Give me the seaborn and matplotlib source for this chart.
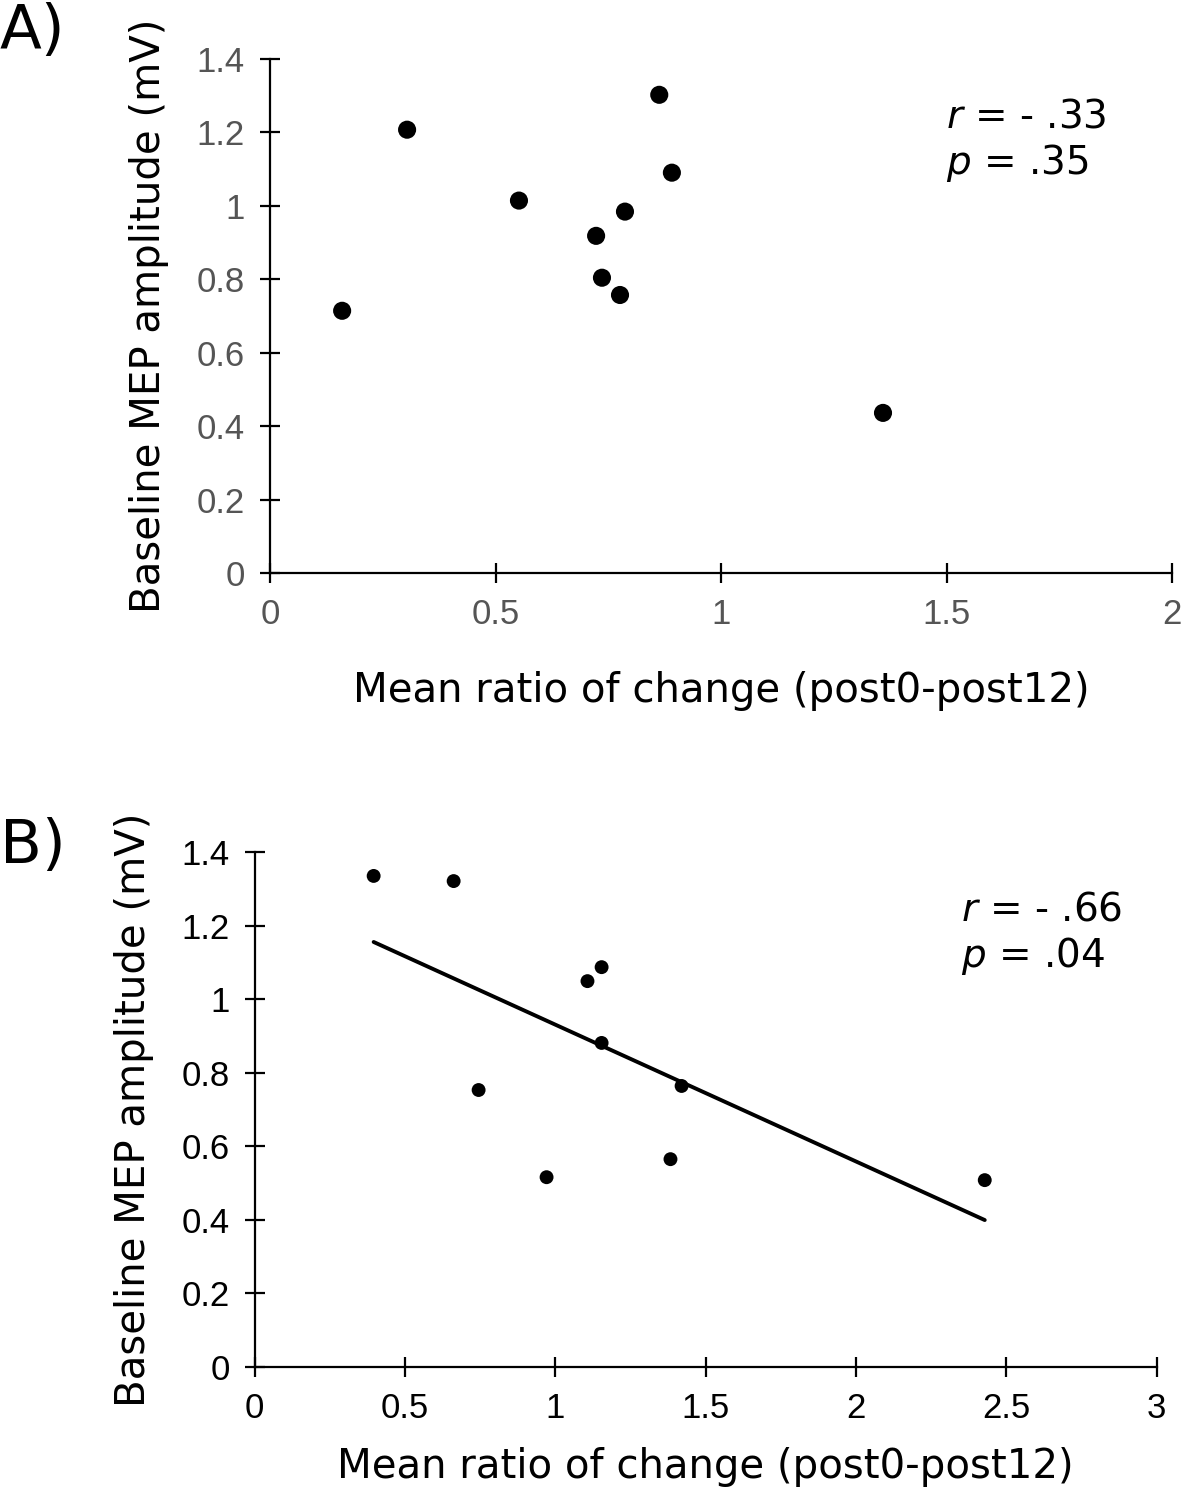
import numpy as np
import pandas as pd
import seaborn as sns
from matplotlib import pyplot as plt

# panel A data
ratio_a = [0.16, 0.304, 0.552, 0.723, 0.736, 0.776, 0.787, 0.863, 0.891, 1.359]
mep_a = [0.714, 1.207, 1.014, 0.918, 0.804, 0.757, 0.984, 1.302, 1.090, 0.436]

# panel B data
ratio_b = [0.396, 0.662, 0.745, 0.971, 1.107, 1.154, 1.154, 1.420, 1.383, 2.428]
mep_b = [1.335, 1.321, 0.753, 0.516, 1.049, 1.087, 0.881, 0.764, 0.565, 0.508]

xticks_a = [0, 0.5, 1, 1.5, 2]
xticks_b = [0, 0.5, 1, 1.5, 2, 2.5, 3]
yticks = [0, 0.2, 0.4, 0.6, 0.8, 1, 1.2, 1.4]

sns.set_style("white")
plt.rcParams['font.family'] = ['DejaVu Sans']
plt.rcParams['text.color'] = 'black'
plt.rcParams['axes.labelcolor'] = 'black'

fig = plt.figure(figsize=(11.84, 15.08), dpi=100)
ax_a = fig.add_axes([0.228, 0.620, 0.762, 0.341])
ax_b = fig.add_axes([0.215, 0.0935, 0.762, 0.3415])

df_a = pd.DataFrame({"x": ratio_a, "y": mep_a})
df_b = pd.DataFrame({"x": ratio_b, "y": mep_b})

sns.scatterplot(data=df_a, x="x", y="y", ax=ax_a, color="black", s=170,
                edgecolor="none", zorder=3, clip_on=False)
sns.regplot(data=df_b, x="x", y="y", ax=ax_b, ci=None, color="black",
            scatter_kws={"s": 100, "edgecolor": "none", "alpha": 1},
            line_kws={"linewidth": 2.8})


def style_axis(ax, xticks, xmax, tick_color, xpad):
    ax.set_xlim(0, xmax)
    ax.set_ylim(0, 1.4)
    ax.set_xticks(xticks)
    ax.set_yticks(yticks)
    ax.set_xticklabels([f"{t:g}" for t in xticks], family="Liberation Sans")
    ax.set_yticklabels([f"{t:g}" for t in yticks], family="Liberation Sans")
    for side in ["top", "right"]:
        ax.spines[side].set_visible(False)
    for side in ["left", "bottom"]:
        ax.spines[side].set_color("black")
        ax.spines[side].set_linewidth(1.6)
    ax.tick_params(bottom=True, left=True, direction="inout", length=14,
                   width=1.6, color="black", labelsize=25,
                   labelcolor=tick_color, pad=11)
    ax.set_xlabel("Mean ratio of change (post0-post12)", fontsize=29, labelpad=xpad)
    ax.set_ylabel("Baseline MEP amplitude (mV)", fontsize=29, labelpad=20)


style_axis(ax_a, xticks_a, 2, "#555555", 29)
style_axis(ax_b, xticks_b, 3, "black", 16)

ax_a.text(0.749, 0.925, "$r$ = - .33\n$p$ = .35", transform=ax_a.transAxes,
          fontsize=28, linespacing=1.2, va="top")
ax_b.text(0.783, 0.925, "$r$ = - .66\n$p$ = .04", transform=ax_b.transAxes,
          fontsize=28, linespacing=1.2, va="top")

fig.text(0.0, 0.999, "A)", fontsize=44, va="top", ha="left")
fig.text(0.0, 0.458, "B)", fontsize=44, va="top", ha="left")

plt.savefig("out.png", dpi=100)
